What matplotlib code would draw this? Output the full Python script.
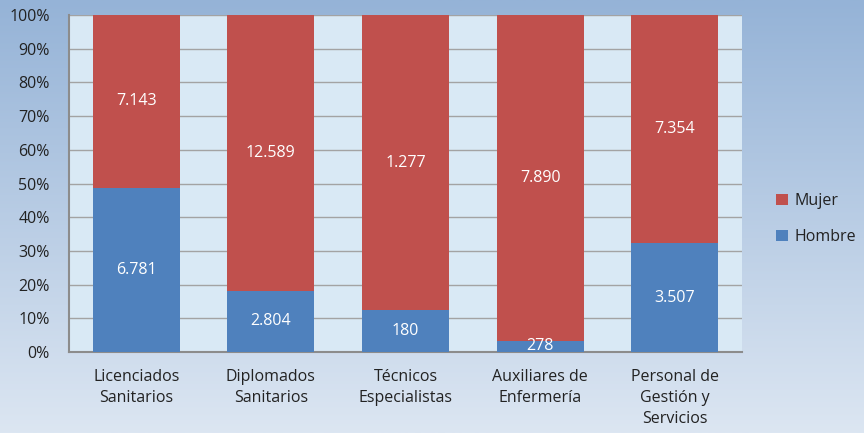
import numpy as np
import matplotlib
matplotlib.use("Agg")
import matplotlib.pyplot as plt
from matplotlib.colors import LinearSegmentedColormap

categories = ["Licenciados\nSanitarios", "Diplomados\nSanitarios", "Técnicos\nEspecialistas",
              "Auxiliares de\nEnfermería", "Personal de\nGestión y\nServicios"]
hombre = [6781, 2804, 180, 278, 3507]
mujer = [7143, 12589, 1277, 7890, 7354]

def fmt(v):
    return f"{v:,}".replace(",", ".")

plt.rcParams['font.family'] = ['Open Sans', 'DejaVu Sans']

fig = plt.figure(figsize=(8.64, 4.33), dpi=100)

# gradient background
bg = fig.add_axes([0, 0, 1, 1], zorder=-10)
cmap = LinearSegmentedColormap.from_list("bg", ["#95b3d7", "#dce6f2"])
grad = np.linspace(0, 1, 256).reshape(-1, 1)
bg.imshow(grad, aspect="auto", cmap=cmap, extent=[0, 1, 0, 1], origin="upper")
bg.axis("off")

W, H = 864, 433
x0, x1, y0, y1 = 69, 742, 15, 352
ax = fig.add_axes([x0 / W, 1 - y1 / H, (x1 - x0) / W, (y1 - y0) / H])
ax.set_facecolor("#d9e9f5")

tot = np.array(hombre) + np.array(mujer)
ph = np.array(hombre) / tot * 100
pm = np.array(mujer) / tot * 100
x = np.arange(len(categories))
bw = 0.645
blue = "#4f81bd"
red = "#c0504d"
ax.bar(x, ph, bw, color=blue, label="Hombre", zorder=3)
ax.bar(x, pm, bw, bottom=ph, color=red, label="Mujer", zorder=3)

for i in range(len(x)):
    ax.text(x[i], ph[i] / 2, fmt(hombre[i]), ha="center", va="center",
            color="white", fontsize=11.5, zorder=4)
    ax.text(x[i], ph[i] + pm[i] / 2, fmt(mujer[i]), ha="center", va="center",
            color="white", fontsize=11.5, zorder=4)

ax.set_xlim(-0.5, len(x) - 0.5)
ax.set_ylim(0, 100)
ax.set_yticks(np.arange(0, 101, 10))
ax.set_yticklabels([f"{v}%" for v in range(0, 101, 10)], fontsize=11.5, color="#222222")
ax.set_xticks(x)
ax.set_xticklabels(categories, fontsize=11.5, color="#222222", linespacing=1.45)
ax.tick_params(axis="both", length=0)
ax.tick_params(axis="y", pad=14)
ax.tick_params(axis="x", pad=12)
ax.grid(axis="y", color="#a3a3a3", linewidth=1, zorder=1)
for s in ["top", "right"]:
    ax.spines[s].set_visible(False)
for s in ["left", "bottom"]:
    ax.spines[s].set_color("#8c8c8c")
    ax.spines[s].set_linewidth(1.5)

h, l = ax.get_legend_handles_labels()
leg = fig.legend(h[::-1], l[::-1], loc="center left", bbox_to_anchor=(762 / W, 1 - 219 / H),
                 frameon=False, fontsize=11.5, handlelength=0.7, handleheight=0.7,
                 labelspacing=1.25, handletextpad=0.45)
for t in leg.get_texts():
    t.set_color("#222222")

fig.savefig("out.png", dpi=100)
